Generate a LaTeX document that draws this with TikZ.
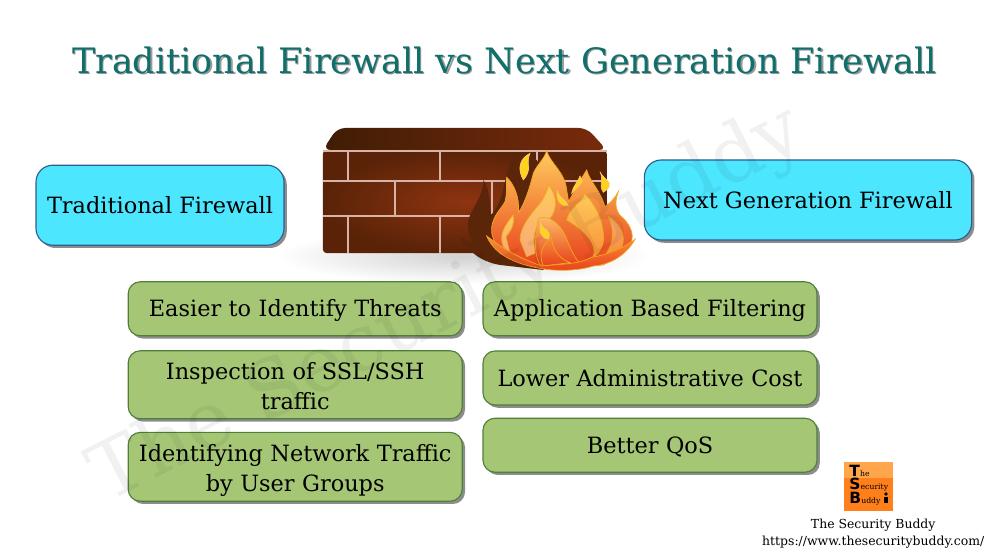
\documentclass[tikz,border=0pt]{standalone}
\usepackage{fontspec}
\setmainfont{DejaVu Serif}
\newfontfamily\logofont{DejaVu Sans}
\usetikzlibrary{shadows}
\usetikzlibrary{positioning}

\definecolor{bluefill}{HTML}{4DE6FF}
\definecolor{blueedge}{HTML}{2F5C8F}
\definecolor{greenfill}{HTML}{A5C675}
\definecolor{greenedge}{HTML}{4F7F3A}
\definecolor{titlecol}{HTML}{0F706B}
\definecolor{mortar}{HTML}{D9B3A6}
\definecolor{walldark}{HTML}{5A2308}
\definecolor{wallmid}{HTML}{8E3410}
\definecolor{topdark}{HTML}{3F1D05}
\definecolor{topmid}{HTML}{7A2A0C}
\definecolor{flameshadow}{HTML}{5A2508}
\definecolor{flamegold}{HTML}{FFCB5C}
\definecolor{flameline}{HTML}{EFA81F}
\definecolor{flamered}{HTML}{E8401C}
\definecolor{flameorange}{HTML}{F9913A}
\definecolor{flamepink}{HTML}{F7A878}
\definecolor{sparkcol}{HTML}{FFD21F}
\definecolor{logolight}{HTML}{FFA64D}
\definecolor{logodark}{HTML}{FF7F1A}

\newcommand{\droptext}[1]{\rule{0pt}{#1pt}}

\tikzset{
  softshadow/.style={drop shadow={shadow xshift=0.07cm,shadow yshift=-0.07cm,fill=black!60,opacity=0.75}},
  headbox/.style={draw=blueedge,line width=0.8pt,fill=bluefill,rounded corners=0.42cm,text=black,
    font=\fontsize{15.95}{20}\selectfont,align=center,softshadow},
  itembox/.style={draw=greenedge,line width=0.8pt,fill=greenfill,rounded corners=0.3cm,text=black,
    font=\fontsize{15.95}{21.3}\selectfont,align=center,minimum width=8.35cm,text width=8.1cm,inner sep=0pt,softshadow},
  mortarline/.style={mortar,line width=0.05cm},
  flamepart/.style={draw=flameline,line width=0.5pt},
  spark/.style={fill=sparkcol,draw=flameline!60!white,line width=0.4pt},
  logoline/.style={anchor=base west,inner sep=0pt,text=black,font=\fontsize{5.5}{6}\selectfont},
}

\begin{document}
\begin{tikzpicture}
\useasboundingbox (0,0) rectangle (24.8,13.95);

%title
\node[text=black!40,font=\fontsize{24.9}{30}\selectfont] (titleshadow) at (12.64,12.42) {Traditional Firewall vs Next Generation Firewall};
\node[text=titlecol,font=\fontsize{24.9}{30}\selectfont] (title) at (12.61,12.45) {Traditional Firewall vs Next Generation Firewall};

%wall
\shade[inner color=black!18,outer color=white] (11.6,7.55) ellipse (4.7cm and 0.7cm);
\shade[left color=topdark,right color=topmid,rounded corners=0.2cm] (8.07,10.2) -- (8.43,10.75) -- (14.67,10.75) -- (15.17,10.2) -- cycle;
\shade[inner color=wallmid,outer color=walldark,rounded corners=0.1cm] (8.07,10.2) rectangle (15.17,7.62);
\draw[mortarline] (8.07,10.17) -- (15.17,10.17);
\draw[mortarline] (8.07,9.42) -- (15.17,9.42);
\draw[mortarline] (8.07,8.55) -- (15.17,8.55);
\foreach \wx in {8.7,11,13.42}
  \draw[mortarline] (\wx,10.17) -- (\wx,9.42);
\foreach \wx in {9.87,12.3}
  \draw[mortarline] (\wx,9.42) -- (\wx,8.55);
\foreach \wx in {8.7,11}
  \draw[mortarline] (\wx,8.55) -- (\wx,7.62);

%flame
\begin{scope}[shift={(11.75,10.45)},x=0.008333cm,y=-0.008333cm]
\fill[flameshadow] (150,40) .. controls (105,70) and (110,130) .. (90,180) .. controls (80,205) and (70,220) .. (62,225) .. controls (60,190) and (60,150) .. (40,120) .. controls (40,170) and (5,205) .. (-5,240) .. controls (-10,265) and (0,290) .. (10,312) .. controls (0,308) and (-15,300) .. (-30,290) .. controls (-10,330) and (30,365) .. (90,375) -- (220,390) -- (300,200) -- (200,60) -- cycle;
\shade[top color=flamegold,middle color=flamegold!55!flameorange,bottom color=flamered,flamepart] (65,262) .. controls (70,225) and (95,205) .. (105,185) .. controls (112,160) and (108,130) .. (110,112) .. controls (130,130) and (150,170) .. (145,218) .. controls (165,190) and (180,140) .. (190,100) .. controls (200,75) and (225,55) .. (230,32) .. controls (240,70) and (285,95) .. (290,150) -- (296,185) .. controls (310,160) and (325,130) .. (350,90) .. controls (360,125) and (390,150) .. (405,200) .. controls (420,190) and (435,175) .. (445,155) .. controls (430,195) and (440,220) .. (460,235) .. controls (485,260) and (490,285) .. (485,305) -- (400,375) -- (200,380) -- (90,340) .. controls (70,300) and (62,280) .. (65,262) -- cycle;
%inner lobes
\shade[top color=flamegold,bottom color=flamepink,flamepart] (100,320) .. controls (85,285) and (105,255) .. (130,225) .. controls (135,250) and (125,270) .. (108,290) -- (120,340) -- cycle;
\shade[top color=flamegold,bottom color=flamepink,flamepart] (150,300) .. controls (150,260) and (185,220) .. (210,190) .. controls (225,170) and (232,150) .. (236,135) .. controls (265,170) and (260,215) .. (240,235) .. controls (200,240) and (185,275) .. (195,340) -- (170,350) -- cycle;
\shade[top color=flamegold,bottom color=flameorange,flamepart] (290,240) .. controls (300,200) and (330,195) .. (345,160) .. controls (375,195) and (395,230) .. (400,280) .. controls (405,310) and (390,340) .. (370,350) .. controls (385,310) and (340,270) .. (290,240) -- cycle;
\shade[top color=flamepink,bottom color=flameorange,flamepart] (410,340) .. controls (430,310) and (435,270) .. (415,230) .. controls (450,250) and (470,290) .. (455,320) -- cycle;
\shade[top color=flamegold!70!flamepink,bottom color=flamered,flamepart] (205,235) .. controls (235,225) and (265,245) .. (285,285) .. controls (300,320) and (310,350) .. (330,370) -- (210,375) .. controls (190,340) and (195,290) .. (205,235) -- cycle;
\shade[top color=flameorange,bottom color=flamered,flamepart] (245,290) .. controls (245,325) and (265,355) .. (300,368) -- (220,378) .. controls (205,345) and (215,315) .. (245,290) -- cycle;
%base
\shade[top color=flameorange,bottom color=flamered,flamepart] (50,288) .. controls (75,305) and (110,340) .. (215,378) .. controls (280,372) and (330,372) .. (365,352) .. controls (410,345) and (460,325) .. (495,298) .. controls (470,345) and (420,375) .. (370,378) .. controls (330,392) and (260,395) .. (210,385) .. controls (150,375) and (75,350) .. (50,288) -- cycle;
%sparks
\filldraw[spark] (180,40) .. controls (150,55) and (140,85) .. (160,120) .. controls (190,85) and (165,75) .. (180,40) -- cycle;
\filldraw[spark] (262,152) .. controls (258,180) and (270,200) .. (295,197) .. controls (285,175) and (268,175) .. (262,152) -- cycle;
\filldraw[spark] (390,95) .. controls (400,115) and (415,120) .. (418,130) .. controls (420,145) and (410,150) .. (400,157) .. controls (385,135) and (402,120) .. (390,95) -- cycle;
\filldraw[spark] (330,108) .. controls (325,125) and (310,135) .. (305,160) .. controls (320,145) and (335,130) .. (337,122) -- cycle;
\filldraw[spark] (212,250) .. controls (205,270) and (212,295) .. (235,297) .. controls (248,270) and (220,272) .. (212,250) -- cycle;
\end{scope}

%headers
\node[headbox,minimum width=6.2cm,minimum height=2cm] (tradhead) at (4,8.82) {Traditional Firewall};
\node[headbox,minimum width=8.18cm,minimum height=2cm] (nexthead) at (20.2,8.95) {Next Generation Firewall};

%left list
\node[itembox,minimum height=1.35cm] (lefta) at (7.38,6.23) {\droptext{15}Easier to Identify Threats};
\node[itembox,minimum height=1.7cm] (leftb) at (7.38,4.33) {\droptext{14}Inspection of SSL/SSH\\traffic};
\node[itembox,minimum height=1.72cm] (leftc) at (7.38,2.28) {\droptext{17}Identifying Network Traffic\\by User Groups};

%right list
\node[itembox,minimum height=1.35cm] (righta) at (16.25,6.23) {\droptext{15}Application Based Filtering};
\node[itembox,minimum height=1.35cm] (rightb) at (16.25,4.5) {Lower Administrative Cost};
\node[itembox,minimum height=1.35cm] (rightc) at (16.25,2.82) {\droptext{15}Better QoS};

%logo
\fill[logolight] (21.1,2.41) rectangle (22.33,2);
\fill[logodark] (21.1,2) rectangle (22.33,1.18);
\node[logoline] (logot) at (21.23,2.03) {{\logofont\bfseries\fontsize{11}{11}\selectfont T}he};
\node[logoline] (logos) at (21.23,1.70) {{\logofont\bfseries\fontsize{11}{11}\selectfont S}ecurity};
\node[logoline] (logob) at (21.23,1.37) {{\logofont\bfseries\fontsize{11}{11}\selectfont B}uddy};
\fill[black] (22.1,1.37) rectangle (22.2,1.53);
\fill[black] (22.15,1.6) circle (0.045);

\node[font=\fontsize{8.85}{10}\selectfont,text=black] (brand) at (21.83,0.82) {The Security Buddy};
\node[font=\fontsize{8.85}{10}\selectfont,text=black] (site) at (21.83,0.4) {https://www.thesecuritybuddy.com/};

%watermark
\node[rotate=27,text=black,opacity=0.055,font=\fontsize{56}{60}\selectfont] (mark) at (11.2,6.3) {The Security Buddy};
\end{tikzpicture}
\end{document}
